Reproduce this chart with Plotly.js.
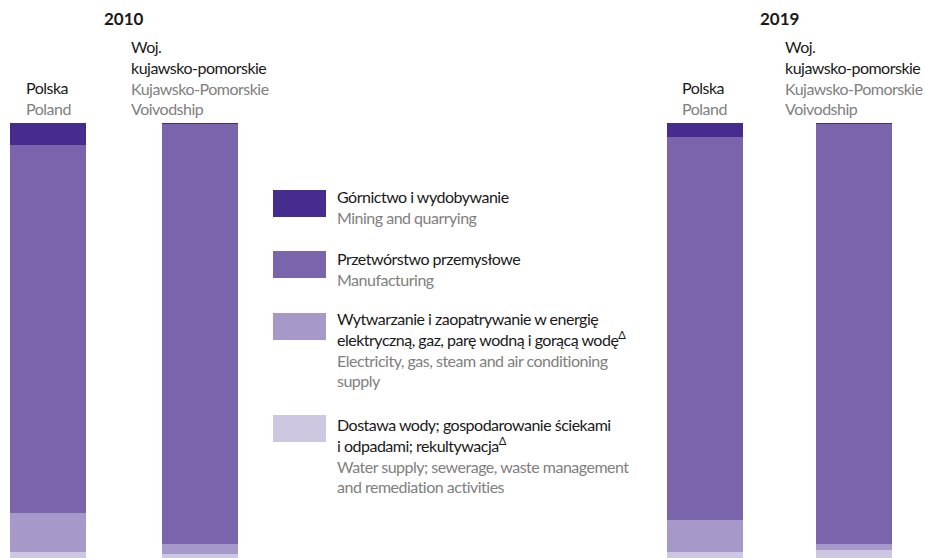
<!DOCTYPE html>
<html>
<head>
<meta charset="utf-8">
<script src="https://cdn.plot.ly/plotly-3.0.1.min.js"></script>
<style>
  html, body { margin: 0; padding: 0; background: #fff; }
  #chart { width: 925px; height: 558px; }
</style>
</head>
<body>
<div id="chart"></div>
<script>
// bars: Polska 2010, Woj. 2010, Polska 2019, Woj. 2019 (shares, %)
const barKeys = ['pl2010', 'kp2010', 'pl2019', 'kp2019'];
const barPos = [0, 1, 4.32, 5.3];

const mining        = [5.0, 0.3, 3.2, 0.3];
const manufacturing = [84.6, 96.5, 88.0, 96.5];
const electricity   = [9.0, 2.3, 7.4, 1.4];
const water         = [1.4, 0.9, 1.4, 1.8];

const sectorPl = [
  'Górnictwo i wydobywanie',
  'Przetwórstwo przemysłowe',
  'Wytwarzanie i zaopatrywanie w energię<br>elektryczną, gaz, parę wodną i gorącą wodę<sup>Δ</sup>',
  'Dostawa wody; gospodarowanie ściekami<br>i odpadami; rekultywacja<sup>Δ</sup>'
];
const sectorEn = [
  'Mining and quarrying',
  'Manufacturing',
  'Electricity, gas, steam and air conditioning<br>supply',
  'Water supply; sewerage, waste management<br>and remediation activities'
];
const colors = ['#452c8e', '#7a64ab', '#a698c8', '#cdc7e1'];

const years = ['2010', '2019'];
const barLabelPl = ['Polska', 'Woj.<br>kujawsko-pomorskie', 'Polska', 'Woj.<br>kujawsko-pomorskie'];
const barLabelEn = ['Poland', 'Kujawsko-Pomorskie<br>Voivodship', 'Poland', 'Kujawsko-Pomorskie<br>Voivodship'];

const FONT = 'Lato, "Liberation Sans", sans-serif';
const BLACK = '#1a1a1a';
const GREY = '#808080';
const W = 925, H = 558, TOP = 123;
const px = x => x / W;
const py = y => (H - y) / (H - TOP);

// condensed look: tighten letters line by line
const tight = s => s.split('<br>').map(l => '<span style="letter-spacing:-0.5px">' + l + '</span>').join('<br>');
const tightGrey = s => s.split('<br>').map(l => '<span style="letter-spacing:-0.5px;color:' + GREY + '">' + l + '</span>').join('<br>');

const series = [mining, manufacturing, electricity, water];
const traces = series.map((vals, i) => ({
  type: 'bar',
  x: barPos,
  y: vals,
  width: 0.5,
  marker: { color: colors[i], line: { width: 0 } },
  hoverinfo: 'skip',
  showlegend: false
})).reverse();

const annotations = [];
const shapes = [];

barKeys.forEach((k, i) => {
  annotations.push({
    xref: 'x', yref: 'y', x: barPos[i], y: 100,
    xanchor: 'center', yanchor: 'bottom', align: 'left', yshift: 3,
    showarrow: false,
    text: tight(barLabelPl[i]) + '<br>' + tightGrey(barLabelEn[i]),
    font: { family: FONT, size: 16, color: BLACK }
  });
});

years.forEach((yr, j) => {
  annotations.push({
    xref: 'x', yref: 'paper', x: (barPos[2 * j] + barPos[2 * j + 1]) / 2, y: py(19),
    xanchor: 'center', yanchor: 'middle', showarrow: false,
    text: '<b>' + yr + '</b>',
    font: { family: FONT, size: 17, color: BLACK }
  });
});

const swatchTop = [190, 251, 313, 415];
const textTop = [185, 247, 307, 413];
sectorPl.forEach((name, i) => {
  shapes.push({
    type: 'rect', xref: 'paper', yref: 'paper',
    x0: px(273), x1: px(326), y0: py(swatchTop[i] + 27), y1: py(swatchTop[i]),
    fillcolor: colors[i], line: { width: 0 }
  });
  annotations.push({
    xref: 'paper', yref: 'paper', x: px(335), y: py(textTop[i]),
    xanchor: 'left', yanchor: 'top', align: 'left', showarrow: false,
    text: tight(name) + '<br>' + tightGrey(sectorEn[i]),
    font: { family: FONT, size: 16, color: BLACK }
  });
});

const layout = {
  width: W, height: H,
  margin: { l: 0, r: 0, t: TOP, b: 0 },
  paper_bgcolor: '#fff', plot_bgcolor: '#fff',
  barmode: 'stack',
  showlegend: false,
  xaxis: { range: [-48 / 152, (W - 48) / 152], visible: false, fixedrange: true },
  yaxis: { range: [0, 100], visible: false, fixedrange: true },
  annotations: annotations,
  shapes: shapes
};

Plotly.newPlot('chart', traces, layout, { displayModeBar: false, staticPlot: true });
</script>
</body>
</html>
